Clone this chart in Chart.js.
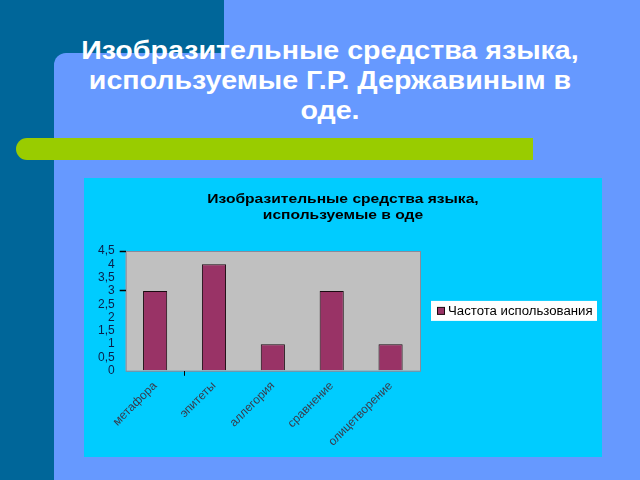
<!DOCTYPE html>
<html>
<head>
<meta charset="utf-8">
<script src="https://cdn.jsdelivr.net/npm/chart.js@4.4.1/dist/chart.umd.min.js"></script>
<style>
    html, body { margin: 0; padding: 0; }
    body { width: 640px; height: 480px; background: #6699FF; position: relative; overflow: hidden; font-family: "Liberation Sans", Arial, sans-serif; }
    .dark { position: absolute; background: #006699; }
    .panel { position: absolute; left: 54px; top: 53px; width: 586px; height: 427px; background: #6699FF; border-top-left-radius: 12px; }
    .slide-title { position: absolute; left: 30px; top: 35px; width: 600px; text-align: center; color: #fff; font-size: 26px; font-weight: bold; line-height: 30px; transform: scaleX(1.1); transform-origin: 300px 0; }
    .lime { position: absolute; left: 16px; top: 138px; width: 517px; height: 22px; background: #99CC00; border-radius: 11px 0 0 11px; }
    .chart-box { position: absolute; left: 84px; top: 178px; width: 518px; height: 279px; background: #00CCFF; }
</style>
</head>
<body>
<div class="dark" style="left:0;top:0;width:224px;height:100px;"></div>
<div class="dark" style="left:0;top:0;width:54px;height:480px;"></div>
<div class="panel"></div>
<div class="slide-title">Изобразительные средства языка,<br>используемые Г.Р. Державиным в<br>оде.</div>
<div class="lime"></div>
<div class="chart-box"><canvas id="chart" width="518" height="279"></canvas></div>
<script>
// данные диаграммы
const categories = ['метафора', 'эпитеты', 'аллегория', 'сравнение', 'олицетворение'];
const usageCounts = [3, 4, 1, 3, 1];
const seriesName = 'Частота использования';
const yTickValues = [0, 0.5, 1, 1.5, 2, 2.5, 3, 3.5, 4, 4.5];
const chartTitle = ['Изобразительные средства языка,', 'используемые в оде'];

// серый фон области построения, заголовок по центру холста и легенда справа
const backdrop = {
    id: 'backdrop',
    beforeDraw(chart) {
        const ctx = chart.ctx;
        const a = chart.chartArea;
        ctx.save();
        ctx.fillStyle = '#C0C0C0';
        ctx.fillRect(a.left, a.top, a.right - a.left, a.bottom - a.top);
        ctx.strokeStyle = '#8a8a9a';
        ctx.lineWidth = 1;
        ctx.strokeRect(a.left + 0.5, a.top + 0.5, a.right - a.left, a.bottom - a.top);
        ctx.restore();
    },
    afterDraw(chart) {
        const ctx = chart.ctx;
        const a = chart.chartArea;
        const ds = chart.data.datasets[0];
        // заголовок (слегка растянут по ширине, как на слайде)
        ctx.save();
        ctx.translate(chart.width / 2, 0);
        ctx.scale(1.2, 1);
        ctx.fillStyle = '#000';
        ctx.font = 'bold 13px "Liberation Sans", Arial, sans-serif';
        ctx.textAlign = 'center';
        ctx.textBaseline = 'middle';
        chartTitle.forEach((line, i) => ctx.fillText(line, 0, 21 + i * 16));
        ctx.restore();
        // легенда
        const cy = (a.top + a.bottom) / 2;
        const left = a.right + 11;
        ctx.save();
        ctx.fillStyle = '#ffffff';
        ctx.fillRect(left, cy - 10, 166, 20);
        ctx.fillStyle = ds.backgroundColor;
        ctx.strokeStyle = '#1a0a10';
        ctx.fillRect(left + 6.5, cy - 3.5, 7, 7);
        ctx.strokeRect(left + 6.5, cy - 3.5, 7, 7);
        ctx.translate(left + 17, cy + 1);
        ctx.scale(1.1, 1);
        ctx.fillStyle = '#000';
        ctx.font = '12px "Liberation Sans", Arial, sans-serif';
        ctx.textBaseline = 'middle';
        ctx.fillText(ds.label, 0, 0);
        ctx.restore();
    }
};

new Chart(document.getElementById('chart'), {
    type: 'bar',
    data: {
        labels: categories,
        datasets: [{
            label: seriesName,
            data: usageCounts,
            backgroundColor: '#993366',
            borderColor: '#1a0a10',
            borderWidth: 1,
            barPercentage: 0.41,
            categoryPercentage: 1
        }]
    },
    options: {
        responsive: false,
        animation: false,
        layout: { padding: { top: 73, left: 9, right: 182, bottom: 5 } },
        plugins: {
            legend: { display: false },
            tooltip: { enabled: false }
        },
        scales: {
            x: {
                grid: {
                    offset: true,
                    drawOnChartArea: false,
                    tickLength: 5,
                    tickColor: (c) => c.index === 1 ? '#000' : 'rgba(0,0,0,0)'
                },
                border: { display: false },
                ticks: {
                    minRotation: 45,
                    maxRotation: 45,
                    color: '#3a3a4a',
                    font: { family: 'Liberation Sans', size: 12 }
                }
            },
            y: {
                min: 0,
                max: 4.5,
                afterBuildTicks(scale) {
                    scale.ticks = yTickValues.map(v => ({ value: v }));
                },
                grid: {
                    drawOnChartArea: false,
                    tickLength: 6,
                    tickWidth: 1.5,
                    tickColor: (c) => (c.tick && (c.tick.value === 4.5 || c.tick.value === 3)) ? '#000' : 'rgba(0,0,0,0)'
                },
                border: { display: false },
                ticks: {
                    autoSkip: false,
                    padding: 5,
                    color: '#0b1f4a',
                    font: { family: 'Liberation Sans', size: 12 },
                    callback: (v) => String(v).replace('.', ',')
                }
            }
        }
    },
    plugins: [backdrop]
});
</script>
</body>
</html>
